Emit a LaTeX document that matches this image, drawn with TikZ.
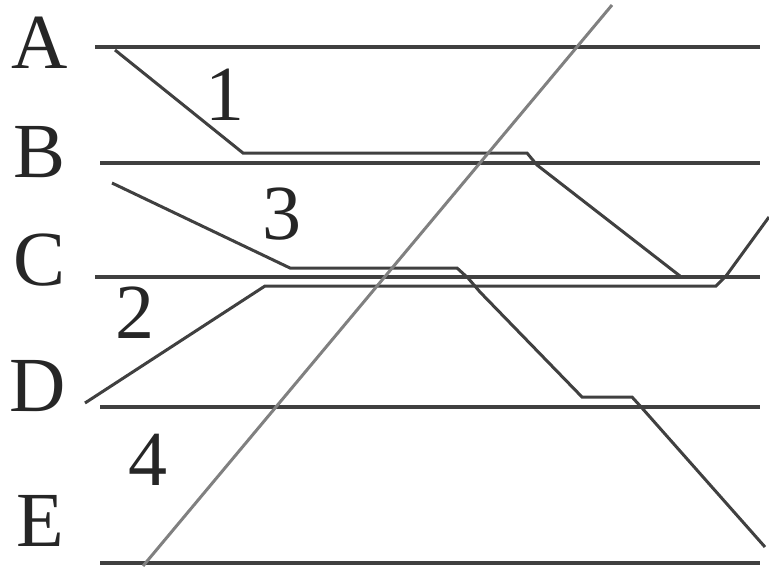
\documentclass[tikz,border=0pt]{standalone}
\usepackage{fontspec}
\setmainfont{Liberation Serif}
\begin{document}
\begin{tikzpicture}[x=1pt,y=-1pt,
  layer/.style={draw=black!75,line width=3.4pt},
  trace/.style={draw=black!75,line width=3pt,line join=miter},
  fault/.style={draw=black!50,line width=3pt},
  lbl/.style={inner sep=0pt,font=\fontsize{78}{78}\selectfont,text=black!85}]
\useasboundingbox (0,0) rectangle (769,566);
% layer boundaries
\draw[layer] (95,47) -- (760,47);
\draw[layer] (100,163) -- (760,163);
\draw[layer] (95,277) -- (760,277);
\draw[layer] (100,407) -- (760,407);
\draw[layer] (100,563) -- (760,563);
% traces
\draw[trace] (115,50) -- (243,153) -- (527,153) -- (537,165) -- (680,276);
\draw[trace] (112,183) -- (290,268) -- (457,268) -- (468,278) -- (480,292) -- (582,397) -- (632,397) -- (642,408) -- (765,547);
\draw[trace] (85,403) -- (265,286) -- (716,286) -- (726,276) -- (769,217);
% long line
\draw[fault] (143,566) -- (612,5);
% labels
\node[lbl] (lA) at (40,43) {A};
\node[lbl] (lB) at (40,152) {B};
\node[lbl] (lC) at (40,260) {C};
\node[lbl] (lD) at (38,386) {D};
\node[lbl] (lE) at (40,521) {E};
\node[lbl] (n1) at (225,95) {1};
\node[lbl] (n3) at (282,214) {3};
\node[lbl] (n2) at (135,313) {2};
\node[lbl] (n4) at (148,460) {4};
\end{tikzpicture}
\end{document}
